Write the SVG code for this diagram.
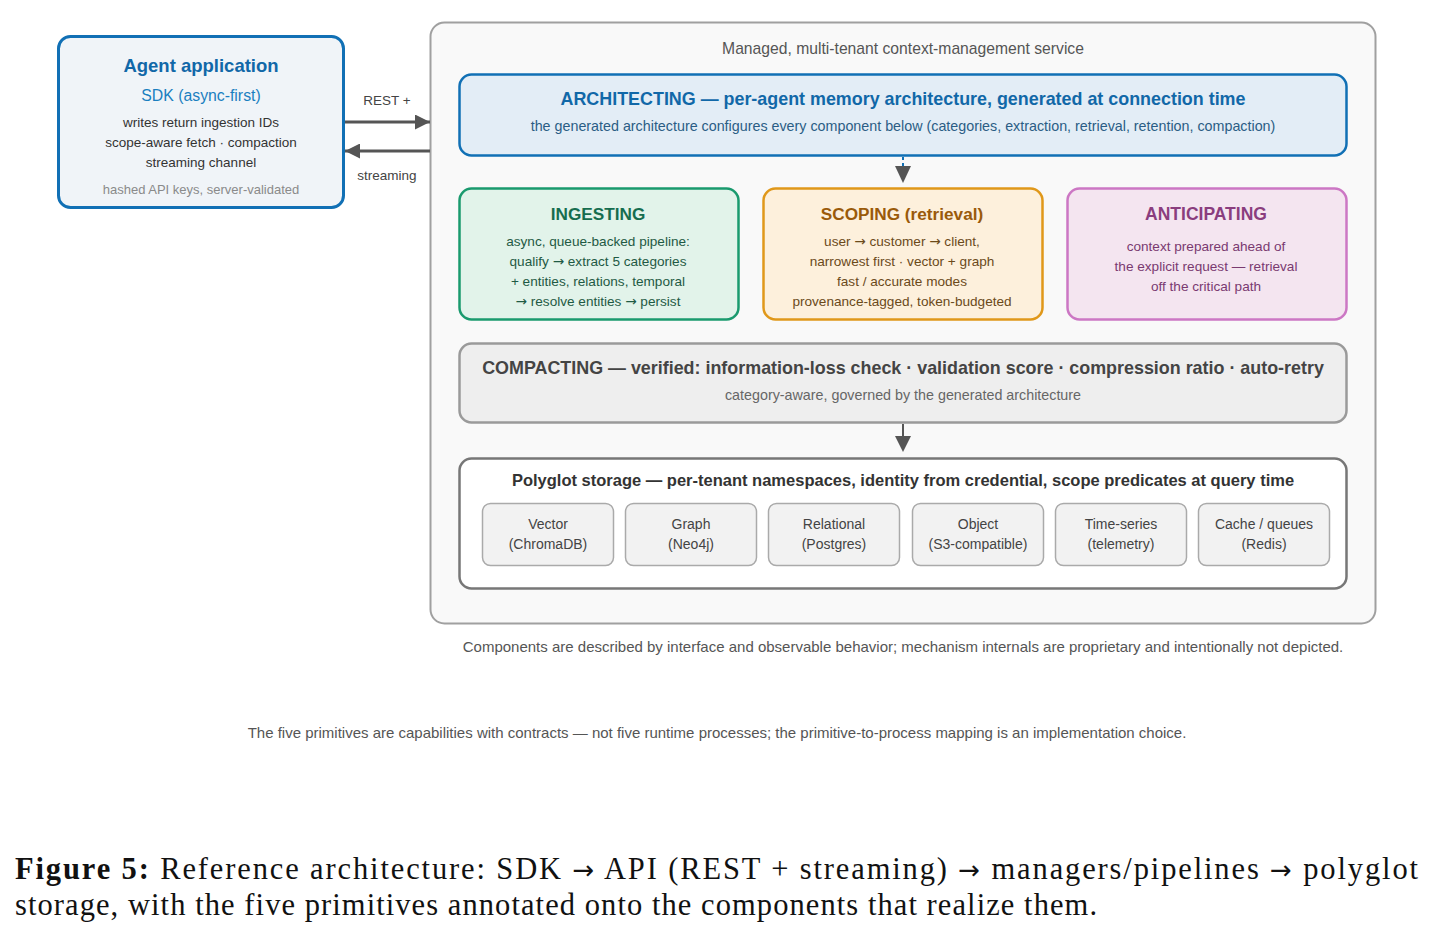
<svg xmlns="http://www.w3.org/2000/svg" width="1435" height="937" viewBox="0 0 1435 937">
<defs>
<marker id="ah" viewBox="0 0 10 10" refX="10" refY="5" markerWidth="5.5" markerHeight="5" markerUnits="strokeWidth" orient="auto"><path d="M0,0 L10,5 L0,10 z" fill="#555"/></marker>
<style>
text{font-family:"Liberation Sans",Arial,Helvetica,sans-serif;text-anchor:middle}
.b{font-weight:bold}
.ar{font-family:"DejaVu Sans",sans-serif}
.conn{stroke:#555;stroke-width:3;fill:none}
.cell rect{fill:#f2f2f2;stroke:#aaa;stroke-width:1.5}
.cell text{font-size:14px;fill:#444}
.cap{font-family:"Liberation Serif","Times New Roman",serif;font-size:30.5px;fill:#111;text-anchor:start}
</style>
</defs>
<rect width="1435" height="937" fill="#fff"/>

<g id="service">
<rect x="430.5" y="22.5" width="945" height="601" rx="14" fill="#f9f9f9" stroke="#a0a0a0" stroke-width="2"/>
<text x="903" y="54" font-size="15.7" fill="#555">Managed, multi-tenant context-management service</text>
</g>

<g id="agent">
<rect x="58.5" y="36.5" width="285" height="171" rx="12" fill="#f0f4f8" stroke="#1170b5" stroke-width="3"/>
<text x="201" y="72" class="b" font-size="18.5" fill="#1168a8">Agent application</text>
<text x="201" y="101" font-size="15.8" fill="#1a7fc0">SDK (async-first)</text>
<text x="201" y="127" font-size="13.5" fill="#333">writes return ingestion IDs</text>
<text x="201" y="147" font-size="13.5" fill="#333">scope-aware fetch · compaction</text>
<text x="201" y="167" font-size="13.5" fill="#333">streaming channel</text>
<text x="201" y="194" font-size="13" fill="#8a8a8a">hashed API keys, server-validated</text>
</g>

<g id="architecting">
<rect x="459.5" y="74.5" width="887" height="81" rx="12" fill="#e3edf6" stroke="#1170b5" stroke-width="2.5"/>
<text x="903" y="105" class="b" font-size="17.9" fill="#1168a8">ARCHITECTING — per-agent memory architecture, generated at connection time</text>
<text x="903" y="131" font-size="14.3" fill="#2b5d85">the generated architecture configures every component below (categories, extraction, retrieval, retention, compaction)</text>
</g>

<g id="ingesting">
<rect x="459.5" y="188.5" width="279" height="131" rx="12" fill="#e2f3ea" stroke="#1a9a6e" stroke-width="2.5"/>
<text x="598" y="220" class="b" font-size="17.2" fill="#166d4f">INGESTING</text>
<text x="598" y="246" font-size="13.6" fill="#1f5a44">async, queue-backed pipeline:</text>
<text x="598" y="266" font-size="13.6" fill="#1f5a44">qualify <tspan class="ar">→</tspan> extract 5 categories</text>
<text x="598" y="286" font-size="13.6" fill="#1f5a44">+ entities, relations, temporal</text>
<text x="598" y="306" font-size="13.6" fill="#1f5a44"><tspan class="ar">→</tspan> resolve entities <tspan class="ar">→</tspan> persist</text>
</g>

<g id="scoping">
<rect x="763.5" y="188.5" width="279" height="131" rx="12" fill="#fdf0dc" stroke="#e0981a" stroke-width="2.5"/>
<text x="902" y="220" class="b" font-size="17.2" fill="#9a5a0a">SCOPING (retrieval)</text>
<text x="902" y="246" font-size="13.6" fill="#6b4a1a">user <tspan class="ar">→</tspan> customer <tspan class="ar">→</tspan> client,</text>
<text x="902" y="266" font-size="13.6" fill="#6b4a1a">narrowest first · vector + graph</text>
<text x="902" y="286" font-size="13.6" fill="#6b4a1a">fast / accurate modes</text>
<text x="902" y="306" font-size="13.6" fill="#6b4a1a">provenance-tagged, token-budgeted</text>
</g>

<g id="anticipating">
<rect x="1067.5" y="188.5" width="279" height="131" rx="12" fill="#f4e5f0" stroke="#cc77c4" stroke-width="2.5"/>
<text x="1206" y="220" class="b" font-size="17.5" fill="#8a3d7e">ANTICIPATING</text>
<text x="1206" y="251" font-size="13.6" fill="#7a3a70">context prepared ahead of</text>
<text x="1206" y="271" font-size="13.6" fill="#7a3a70">the explicit request — retrieval</text>
<text x="1206" y="291" font-size="13.6" fill="#7a3a70">off the critical path</text>
</g>

<g id="compacting">
<rect x="459.5" y="343.5" width="887" height="79" rx="12" fill="#eeeeee" stroke="#9a9a9a" stroke-width="2.5"/>
<text x="903" y="374" class="b" font-size="17.9" fill="#444">COMPACTING — verified: information-loss check · validation score · compression ratio · auto-retry</text>
<text x="903" y="400" font-size="14.3" fill="#666">category-aware, governed by the generated architecture</text>
</g>

<g id="storage">
<rect x="459.5" y="458.5" width="887" height="130" rx="12" fill="#ffffff" stroke="#777" stroke-width="2.5"/>
<text x="903" y="486" class="b" font-size="16.5" fill="#333">Polyglot storage — per-tenant namespaces, identity from credential, scope predicates at query time</text>
<g class="cell" id="s-vector"><rect x="482.5" y="503.5" width="131" height="62" rx="8"/><text x="548" y="529">Vector</text><text x="548" y="549">(ChromaDB)</text></g>
<g class="cell" id="s-graph"><rect x="625.5" y="503.5" width="131" height="62" rx="8"/><text x="691" y="529">Graph</text><text x="691" y="549">(Neo4j)</text></g>
<g class="cell" id="s-relational"><rect x="768.5" y="503.5" width="131" height="62" rx="8"/><text x="834" y="529">Relational</text><text x="834" y="549">(Postgres)</text></g>
<g class="cell" id="s-object"><rect x="912.5" y="503.5" width="131" height="62" rx="8"/><text x="978" y="529">Object</text><text x="978" y="549">(S3-compatible)</text></g>
<g class="cell" id="s-timeseries"><rect x="1055.5" y="503.5" width="131" height="62" rx="8"/><text x="1121" y="529">Time-series</text><text x="1121" y="549">(telemetry)</text></g>
<g class="cell" id="s-cache"><rect x="1198.5" y="503.5" width="131" height="62" rx="8"/><text x="1264" y="529">Cache / queues</text><text x="1264" y="549">(Redis)</text></g>
</g>

<g id="connectors">
<line x1="345" y1="122" x2="430" y2="122" class="conn" marker-end="url(#ah)"/>
<text x="387" y="105" font-size="13.5" fill="#444">REST +</text>
<line x1="430" y1="151" x2="345" y2="151" class="conn" marker-end="url(#ah)"/>
<text x="387" y="180" font-size="13.5" fill="#444">streaming</text>
<line x1="903" y1="157" x2="903" y2="170" stroke="#1170b5" stroke-width="2" stroke-dasharray="3,3"/>
<path d="M895,166 L911,166 L903,183 z" fill="#555"/>
<line x1="903" y1="424" x2="903" y2="440" stroke="#555" stroke-width="2"/>
<path d="M895,436 L911,436 L903,452 z" fill="#555"/>
</g>

<text x="903" y="652" font-size="15" fill="#555">Components are described by interface and observable behavior; mechanism internals are proprietary and intentionally not depicted.</text>
<text x="717" y="738" font-size="15" fill="#555">The five primitives are capabilities with contracts — not five runtime processes; the primitive-to-process mapping is an implementation choice.</text>

<text x="15" y="879" class="cap" textLength="1403" lengthAdjust="spacing"><tspan font-weight="bold">Figure 5:</tspan> Reference architecture: SDK <tspan class="ar" font-size="26">→</tspan> API (REST + streaming) <tspan class="ar" font-size="26">→</tspan> managers/pipelines <tspan class="ar" font-size="26">→</tspan> polyglot</text>
<text x="15" y="915" class="cap" textLength="1082" lengthAdjust="spacing">storage, with the five primitives annotated onto the components that realize them.</text>
</svg>
